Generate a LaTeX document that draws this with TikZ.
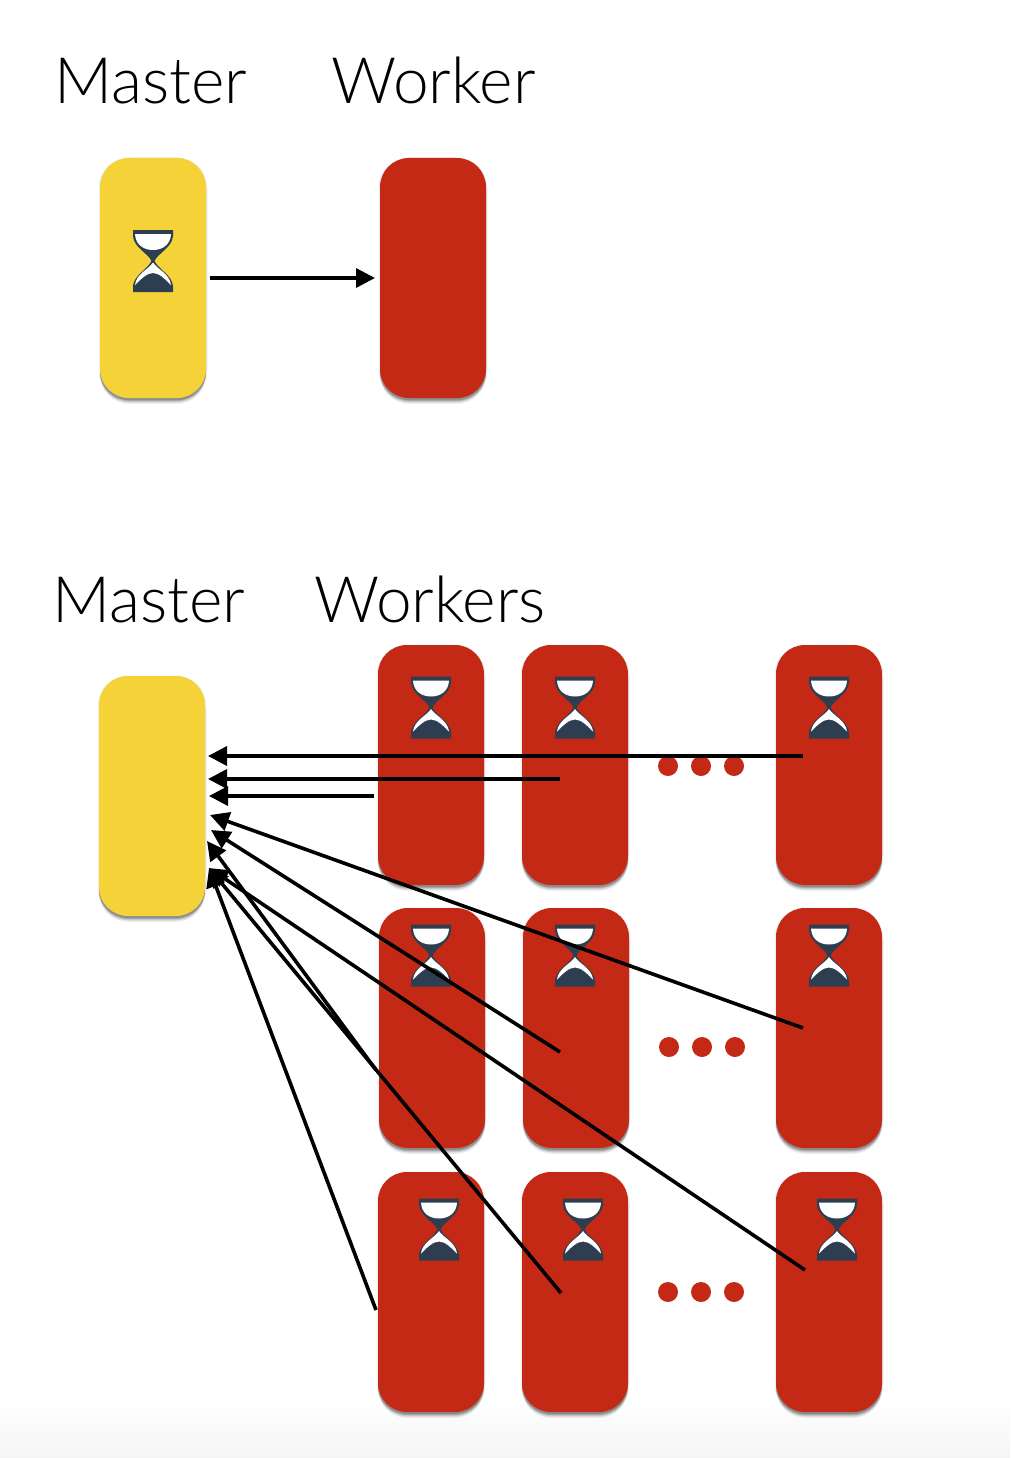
\documentclass[tikz,border=0pt]{standalone}
\usepackage{fontspec}
\setmainfont{Lato Light}
\usetikzlibrary{arrows.meta,shadings}
\definecolor{boxyellow}{HTML}{F4D238}
\definecolor{boxred}{HTML}{C42916}
\definecolor{glassdark}{HTML}{2C3E50}
\definecolor{pagegrey}{HTML}{F5F5F5}
\tikzset{
  softshadow/.style={
    preaction={fill=black,fill opacity=.05,transform canvas={yshift=-6pt}},
    preaction={fill=black,fill opacity=.07,transform canvas={yshift=-5pt}},
    preaction={fill=black,fill opacity=.10,transform canvas={yshift=-4pt}},
    preaction={fill=black,fill opacity=.12,transform canvas={yshift=-3pt}},
    preaction={fill=black,fill opacity=.15,transform canvas={yshift=-2pt}},
    preaction={draw=black,draw opacity=.06,line width=3pt,transform canvas={yshift=-1pt}}},
  workbox/.style={softshadow,rectangle,rounded corners=29pt,minimum width=106pt,minimum height=240pt,inner sep=0pt,fill=#1},
  dotmark/.style={circle,fill=boxred,minimum size=20pt,inner sep=0pt},
  heading/.style={anchor=base west,inner sep=0pt,font=\fontsize{64}{64}\selectfont},
  link/.style={line width=3.6pt,-{Triangle[length=19pt,width=19pt]}},
  pics/hourglass/.style={code={
    \fill[glassdark] (-20,-31) -- (20,-31) -- (20,-25) .. controls (19,-13) and (5,-8) .. (1.5,0)
       .. controls (5,8) and (19,14) .. (20,25) -- (20,31) -- (-20,31) -- (-20,25)
       .. controls (-19,14) and (-5,8) .. (-1.5,0) .. controls (-5,-8) and (-19,-13) .. (-20,-25) -- cycle;
    \fill[white] (-18,-27) -- (18,-27) .. controls (17.5,-16) and (9,-11) .. (0,-11) .. controls (-9,-11) and (-17.5,-16) .. (-18,-27) -- cycle;
    \fill[white] (0,1.5) .. controls (4,8) and (17,13) .. (18,24) .. controls (12,18) and (6,12) .. (0,12)
       .. controls (-6,12) and (-12,18) .. (-18,24) .. controls (-17,13) and (-4,8) .. (0,1.5) -- cycle;
  }}
}
\begin{document}
\begin{tikzpicture}[x=1pt,y=-1pt]
\useasboundingbox (0,0) rectangle (1010,1458);
\shade[top color=white,bottom color=pagegrey] (0,1400) rectangle (1010,1458);

\node[heading] (title1) at (54,104) {Master};
\node[heading] (title2) at (331,104) {Worker};
\node[heading] (title3) at (52,622) {Master};
\node[heading] (title4) at (314,622) {Workers};

\node[workbox=boxyellow] (m1) at (153,278) {};
\node[workbox=boxred] (w1) at (433,278) {};
\node[workbox=boxyellow] (m2) at (152,796) {};

\node[workbox=boxred] (a1) at (431,765) {};
\node[workbox=boxred] (a2) at (575,765) {};
\node[workbox=boxred] (a3) at (829,765) {};
\node[workbox=boxred] (b1) at (432,1028) {};
\node[workbox=boxred] (b2) at (576,1028) {};
\node[workbox=boxred] (b3) at (829,1028) {};
\node[workbox=boxred] (c1) at (431,1292) {};
\node[workbox=boxred] (c2) at (575,1292) {};
\node[workbox=boxred] (c3) at (829,1292) {};

\pic at (153,261) {hourglass};
\pic at (431,707.5) {hourglass};
\pic at (575,707.5) {hourglass};
\pic at (829,707.5) {hourglass};
\pic at (431,955.5) {hourglass};
\pic at (575,955.5) {hourglass};
\pic at (829,955.5) {hourglass};
\pic at (439,1229.5) {hourglass};
\pic at (583,1229.5) {hourglass};
\pic at (837,1229.5) {hourglass};

\foreach \n/\x/\y in {d1/668/766,d2/701/766,d3/734/766,e1/669/1047,e2/702/1047,e3/735/1047,f1/668/1292,f2/701/1292,f3/734/1292}
  \node[dotmark] (\n) at (\x,\y) {};

\coordinate (s0) at (210,278);  \coordinate (t0) at (375,278);
\coordinate (s1) at (803,756);  \coordinate (t1) at (208,756);
\coordinate (s2) at (560,779);  \coordinate (t2) at (208,779);
\coordinate (s3) at (374,796);  \coordinate (t3) at (209,796);
\coordinate (s4) at (803,1028); \coordinate (t4) at (210,815);
\coordinate (s5) at (560,1052); \coordinate (t5) at (211,830);
\coordinate (s6) at (376,1070); \coordinate (t6) at (207,841);
\coordinate (s7) at (805,1270); \coordinate (t7) at (209,868);
\coordinate (s8) at (561,1293); \coordinate (t8) at (209,868);
\coordinate (s9) at (376,1310); \coordinate (t9) at (209,868);

\draw[link,line width=3.4pt] (s0) -- (t0);
\foreach \i in {1,...,9}
  \draw[link] (s\i) -- (t\i);
\end{tikzpicture}
\end{document}
